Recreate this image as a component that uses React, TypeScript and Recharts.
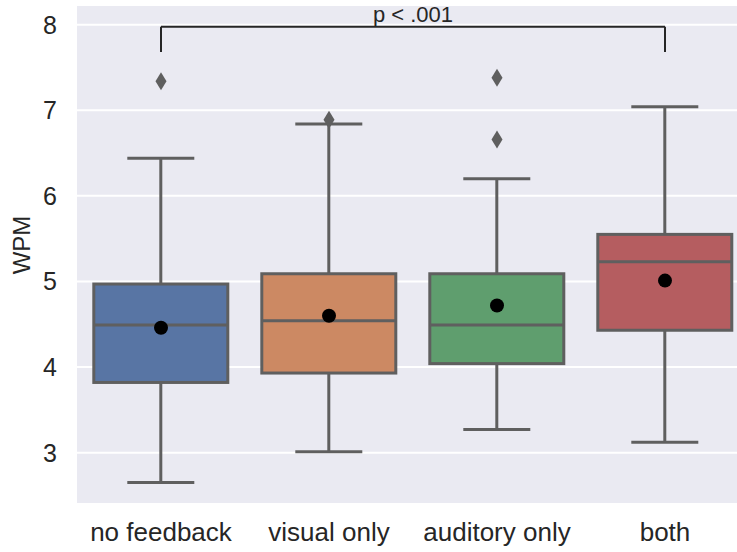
import { ComposedChart, Bar, Scatter, XAxis, YAxis, CartesianGrid, ReferenceLine } from 'recharts';

const categories = ['no feedback', 'visual only', 'auditory only', 'both'];
const whiskerLow = [2.65, 3.01, 3.27, 3.12];
const q1 = [3.82, 3.93, 4.04, 4.43];
const median = [4.49, 4.54, 4.49, 5.23];
const q3 = [4.97, 5.09, 5.09, 5.55];
const whiskerHigh = [6.44, 6.84, 6.2, 7.04];
const means = [4.46, 4.6, 4.72, 5.01];
const outlierA = [7.34, 6.89, 7.38, null];
const outlierB = [null, null, 6.66, null];
const boxColors = ['#5875a4', '#cc8963', '#5f9e6e', '#b55d60'];
const yTicks = [3, 4, 5, 6, 7, 8];
const bracketY = 7.975;
const bracketLeg = 7.68;

const LINE = '#5f5f5f';
const TEXT = '#262626';
const FONT = '"Liberation Sans", Arial, Helvetica, sans-serif';

const data = categories.map((name, i) => ({
  name,
  range: [whiskerLow[i], whiskerHigh[i]],
  lo: whiskerLow[i],
  q1: q1[i],
  med: median[i],
  q3: q3[i],
  hi: whiskerHigh[i],
  mean: means[i],
  oA: outlierA[i],
  oB: outlierB[i],
  color: boxColors[i],
}));

// draws whiskers, box and median from the bar's whisker range
function BoxShape(props: any) {
  const { x, y, width, height, payload } = props;
  if (x == null || y == null) return <g />;
  const top = Math.min(y, y + height);
  const h = Math.abs(height);
  const { lo, hi } = payload;
  const pix = (v: number) => top + ((hi - v) / (hi - lo)) * h;
  const cx = x + width / 2;
  const capW = width / 4;
  return (
    <g>
      <line x1={cx} x2={cx} y1={pix(hi)} y2={pix(payload.q3)} stroke={LINE} strokeWidth={3} />
      <line x1={cx} x2={cx} y1={pix(payload.q1)} y2={pix(lo)} stroke={LINE} strokeWidth={3} />
      <line x1={cx - capW} x2={cx + capW} y1={pix(hi)} y2={pix(hi)} stroke={LINE} strokeWidth={3} />
      <line x1={cx - capW} x2={cx + capW} y1={pix(lo)} y2={pix(lo)} stroke={LINE} strokeWidth={3} />
      <rect
        x={x}
        y={pix(payload.q3)}
        width={width}
        height={pix(payload.q1) - pix(payload.q3)}
        fill={payload.color}
        stroke={LINE}
        strokeWidth={3}
      />
      <line x1={x} x2={x + width} y1={pix(payload.med)} y2={pix(payload.med)} stroke={LINE} strokeWidth={3} />
    </g>
  );
}

const makeDiamond = (key: string) => (props: any) => {
  const { cx, cy, payload } = props;
  if (!payload || payload[key] == null || cx == null || cy == null || isNaN(cy)) return <g />;
  return <polygon points={`${cx},${cy - 9} ${cx + 5.5},${cy} ${cx},${cy + 9} ${cx - 5.5},${cy}`} fill={LINE} />;
};
const DiamondA = makeDiamond('oA');
const DiamondB = makeDiamond('oB');

function MeanDot(props: any) {
  const { cx, cy } = props;
  if (cx == null || cy == null) return <g />;
  return <circle cx={cx} cy={cy} r={7} fill="#000" />;
}

export default function App() {
  return (
    <div style={{ position: 'absolute', left: 0, top: 0, width: 737, height: 552, overflow: 'hidden', background: '#fff' }}>
      <ComposedChart
        width={760}
        height={552}
        data={data}
        margin={{ top: 5, right: 11, bottom: 0, left: 0 }}
        barCategoryGap="10%"
        style={{ fontFamily: FONT }}
      >
        <CartesianGrid vertical={false} stroke="#fff" strokeWidth={2} fill="#eaeaf2" />
        <XAxis
          dataKey="name"
          height={48}
          axisLine={false}
          tickLine={false}
          tickSize={0}
          tickMargin={19}
          interval={0}
          tick={{ fontSize: 26, fill: TEXT }}
        />
        <YAxis
          type="number"
          domain={[2.4, 8.23]}
          allowDataOverflow
          ticks={yTicks}
          width={77}
          axisLine={false}
          tickLine={false}
          tickSize={0}
          tickMargin={20}
          tick={{ fontSize: 25, fill: TEXT }}
          label={{
            content: () => (
              <text
                x={21}
                y={245}
                transform="rotate(-90 21 245)"
                textAnchor="middle"
                dominantBaseline="central"
                fontSize={24}
                fill={TEXT}
              >
                WPM
              </text>
            ),
          }}
        />
        <Scatter dataKey="oA" shape={DiamondA} isAnimationActive={false} />
        <Scatter dataKey="oB" shape={DiamondB} isAnimationActive={false} />
        <Bar dataKey="range" shape={BoxShape} isAnimationActive={false} />
        <Scatter dataKey="mean" shape={MeanDot} isAnimationActive={false} />
        <ReferenceLine
          segment={[
            { x: categories[0], y: bracketY },
            { x: categories[3], y: bracketY },
          ]}
          stroke={TEXT}
          strokeWidth={2}
          label={{ value: 'p < .001', position: 'top', offset: 5, fontSize: 22, fill: TEXT }}
        />
        <ReferenceLine
          segment={[
            { x: categories[0], y: bracketY },
            { x: categories[0], y: bracketLeg },
          ]}
          stroke={TEXT}
          strokeWidth={2}
        />
        <ReferenceLine
          segment={[
            { x: categories[3], y: bracketY },
            { x: categories[3], y: bracketLeg },
          ]}
          stroke={TEXT}
          strokeWidth={2}
        />
      </ComposedChart>
    </div>
  );
}
